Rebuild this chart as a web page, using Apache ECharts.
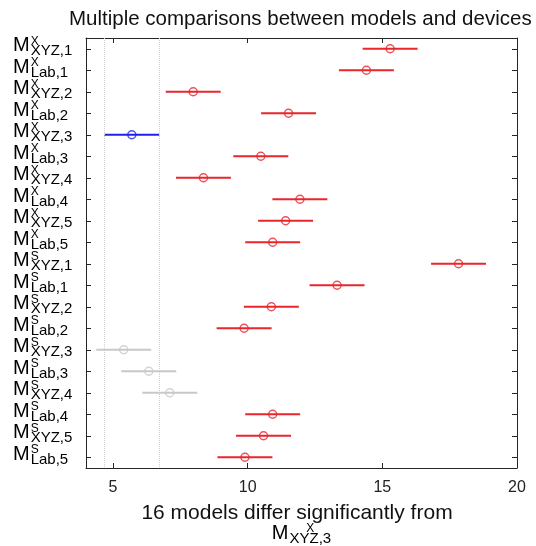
<!DOCTYPE html>
<html>
<head>
<meta charset="utf-8">
<script src="https://cdn.jsdelivr.net/npm/echarts@6/dist/echarts.min.js"></script>
<style>
html, body { margin: 0; padding: 0; background: #fff; }
#chart { width: 536px; height: 546px; }
</style>
</head>
<body>
<div id="chart"></div>
<script>
// model labels: M^sup_sub
var supers = ['X', 'X', 'X', 'X', 'X', 'X', 'X', 'X', 'X', 'X',
              'S', 'S', 'S', 'S', 'S', 'S', 'S', 'S', 'S', 'S'];
var subs = ['XYZ,1', 'Lab,1', 'XYZ,2', 'Lab,2', 'XYZ,3', 'Lab,3', 'XYZ,4', 'Lab,4', 'XYZ,5', 'Lab,5',
            'XYZ,1', 'Lab,1', 'XYZ,2', 'Lab,2', 'XYZ,3', 'Lab,3', 'XYZ,4', 'Lab,4', 'XYZ,5', 'Lab,5'];
var means = [15.29, 14.41, 7.98, 11.52, 5.70, 10.49, 8.36, 11.94, 11.41, 10.93,
             17.83, 13.32, 10.88, 9.87, 5.40, 6.33, 7.11, 10.93, 10.59, 9.90];
var halfWidths = [1.02, 1.02, 1.02, 1.02, 1.02, 1.02, 1.02, 1.02, 1.02, 1.02,
                  1.02, 1.02, 1.02, 1.02, 1.02, 1.02, 1.02, 1.02, 1.02, 1.02];
// r = differs significantly, b = selected model, g = not significant
var groups = ['r', 'r', 'r', 'r', 'b', 'r', 'r', 'r', 'r', 'r',
              'r', 'r', 'r', 'r', 'g', 'g', 'g', 'r', 'r', 'r'];
var refLimits = [4.68, 6.72];
var xTicks = [5, 10, 15, 20];

var colors = { r: '#e8262c', b: '#2020e8', g: '#c8c8c8' };
var font = 'Liberation Sans, Arial, Helvetica, sans-serif';

var categories = [];
for (var i = 0; i < supers.length; i++) {
	categories.push(supers[i] + '|' + subs[i]);
}
var barData = [], pointData = [];
for (var i = 0; i < means.length; i++) {
	barData.push([means[i], i, halfWidths[i]]);
	pointData.push({
		value: [means[i], i],
		itemStyle: { color: 'rgba(0,0,0,0)', borderColor: colors[groups[i]], borderWidth: 1.5 }
	});
}

// every token is 34px tall so the line middle sits on the tick
var labelRich = {
	m: { fontSize: 20, lineHeight: 20, padding: [4, 0, 10, 0], fontFamily: font, color: '#000' },
	gm: { fontSize: 20, lineHeight: 20, padding: [4, 0, 10, 0], fontFamily: font, color: 'rgba(0,0,0,0)' },
	sup: { fontSize: 12, lineHeight: 12, width: 42, align: 'left', padding: [3.5, 0, 18.5, 1], fontFamily: font, color: '#000' },
	sub: { fontSize: 15, lineHeight: 15, width: 42, align: 'left', padding: [12, 0, 7, 1], fontFamily: font, color: '#000' }
};

function hiddenX(name, gap) {
	return {
		type: 'value', position: 'bottom', min: 4, max: 20,
		axisLine: { show: false }, axisTick: { show: false }, axisLabel: { show: false }, splitLine: { show: false },
		name: name, nameLocation: 'middle', nameGap: gap,
		nameTextStyle: { rich: labelRich }
	};
}

var myChart = echarts.init(document.getElementById('chart'));
myChart.setOption({
	animation: false,
	title: {
		text: 'Multiple comparisons between models and devices',
		left: 64,
		top: 4,
		textStyle: { fontSize: 20.5, fontWeight: 'normal', color: '#111', fontFamily: font }
	},
	grid: { left: 86, right: 19, top: 38, bottom: 78, outerBoundsMode: 'none' },
	xAxis: [{
		type: 'value',
		position: 'bottom',
		min: 4,
		max: 20,
		axisLine: { show: true, lineStyle: { color: '#262626' } },
		axisTick: { show: true, inside: true, length: 5, customValues: xTicks, lineStyle: { color: '#262626' } },
		axisLabel: { customValues: xTicks, margin: 12, fontSize: 16, color: '#222', fontFamily: font },
		splitLine: { show: false },
		name: '16 models differ significantly from',
		nameLocation: 'middle',
		nameGap: 29,
		nameTextStyle: { fontSize: 21, lineHeight: 24, padding: [0, 9, 0, 0], color: '#111', fontFamily: font }
	}, {
		type: 'value',
		position: 'top',
		min: 4,
		max: 20,
		axisLine: { show: true, lineStyle: { color: '#262626' } },
		axisTick: { show: true, inside: true, length: 5, customValues: xTicks, lineStyle: { color: '#262626' } },
		axisLabel: { show: false },
		splitLine: { show: false }
	},
	hiddenX('{m|M}{sub|XYZ,3}', 58),
	hiddenX('{gm|M}{sup|X}', 58)
	],
	yAxis: [{
		type: 'category',
		position: 'left',
		inverse: true,
		data: categories,
		axisLine: { show: true, lineStyle: { color: '#262626' } },
		axisTick: { show: true, inside: true, length: 5, alignWithLabel: true, lineStyle: { color: '#262626' } },
		axisLabel: {
			interval: 0,
			margin: 73,
			align: 'left',
			formatter: function(v) {
				return '{m|M}{sub|' + v.split('|')[1] + '}';
			},
			rich: labelRich
		}
	}, {
		type: 'category',
		position: 'right',
		inverse: true,
		data: categories,
		axisLine: { show: true, lineStyle: { color: '#262626' } },
		axisTick: { show: true, inside: true, length: 5, alignWithLabel: true, lineStyle: { color: '#262626' } },
		axisLabel: { show: false }
	}, {
		type: 'category',
		position: 'left',
		inverse: true,
		data: categories,
		axisLine: { show: false },
		axisTick: { show: false },
		axisLabel: {
			interval: 0,
			margin: 73,
			align: 'left',
			formatter: function(v) {
				return '{gm|M}{sup|' + v.split('|')[0] + '}';
			},
			rich: labelRich
		}
	}],
	series: [{
		type: 'custom',
		xAxisIndex: 0,
		yAxisIndex: 0,
		encode: { x: [0], y: 1 },
		data: barData,
		renderItem: function(params, api) {
			var c = api.value(1);
			var lo = api.coord([api.value(0) - api.value(2), c]);
			var hi = api.coord([api.value(0) + api.value(2), c]);
			return {
				type: 'line',
				shape: { x1: lo[0], y1: lo[1], x2: hi[0], y2: hi[1] },
				style: { stroke: colors[groups[params.dataIndex]], lineWidth: 2 }
			};
		},
		z: 2
	}, {
		type: 'scatter',
		xAxisIndex: 0,
		yAxisIndex: 0,
		symbol: 'circle',
		symbolSize: 8,
		data: pointData,
		z: 3,
		markLine: {
			silent: true,
			symbol: 'none',
			label: { show: false },
			lineStyle: { color: '#d0d0d0', type: 'dotted', width: 1 },
			data: [{ xAxis: refLimits[0] }, { xAxis: refLimits[1] }]
		}
	}]
});
</script>
</body>
</html>
